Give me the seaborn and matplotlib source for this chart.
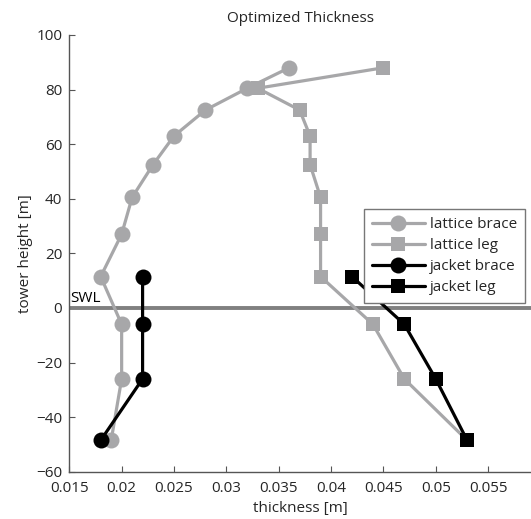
import matplotlib
matplotlib.use("Agg")
import matplotlib.pyplot as plt
import seaborn as sns
import pandas as pd

# ---- data ----
heights = [88, 80.5, 72.5, 63, 52.5, 40.5, 27, 11.5, -6, -26, -48.5]
lattice_brace = [0.036, 0.032, 0.028, 0.025, 0.023, 0.021, 0.020, 0.018, 0.020, 0.020, 0.019]
lattice_leg = [0.045, 0.033, 0.037, 0.038, 0.038, 0.039, 0.039, 0.039, 0.044, 0.047, 0.053]
jacket_heights = [11.5, -6, -26, -48.5]
jacket_brace = [0.022, 0.022, 0.022, 0.018]
jacket_leg = [0.042, 0.047, 0.050, 0.053]
xticks = [0.015, 0.02, 0.025, 0.03, 0.035, 0.04, 0.045, 0.05, 0.055]
yticks = [-60, -40, -20, 0, 20, 40, 60, 80, 100]

sns.set_theme(style="ticks")
plt.rcParams['font.family'] = ['Open Sans', 'DejaVu Sans']

fig = plt.figure(figsize=(5.31, 5.19), dpi=100)
ax = fig.add_axes([69.3 / 531, 1 - 471.7 / 519, 1 - 69.3 / 531, (471.7 - 35) / 519])

gray = "#a7a7a9"
series = [
    ("lattice brace", lattice_brace, heights, gray, "o", 11.5),
    ("lattice leg", lattice_leg, heights, gray, "s", 9.5),
    ("jacket brace", jacket_brace, jacket_heights, "black", "o", 11.5),
    ("jacket leg", jacket_leg, jacket_heights, "black", "s", 9.5),
]
for name, xs, ys, col, mk, ms in series:
    df = pd.DataFrame({"thickness": xs, "height": ys})
    sns.lineplot(data=df, x="thickness", y="height", sort=False, ax=ax,
                 color=col, marker=mk, markersize=ms, markeredgewidth=0,
                 linewidth=2.3, label=name, estimator=None)

ax.axhline(0, color="#808080", linewidth=2.8, zorder=1)
ax.text(0.0151, 0.6, "SWL", fontsize=11, ha="left", va="bottom", color="black")

ax.set_xlim(0.015, 0.0591)
ax.set_ylim(-60, 100)
ax.set_xticks(xticks)
ax.set_xticklabels([f"{t:g}" for t in xticks])
ax.set_yticks(yticks)
ax.set_yticklabels([str(t).replace("-", "\u2212") for t in yticks])
ax.tick_params(direction="in", length=4, width=0.8, color="#555555", labelsize=11)
ax.tick_params(axis="x", pad=7)
ax.tick_params(axis="y", pad=5)
for s in ["top", "right"]:
    ax.spines[s].set_visible(False)
for s in ["left", "bottom"]:
    ax.spines[s].set_color("#555555")
    ax.spines[s].set_linewidth(1.0)

ax.set_xlabel("thickness [m]", fontsize=11, labelpad=3)
ax.set_ylabel("tower height [m]", fontsize=11, labelpad=2)
ax.set_title("Optimized Thickness", fontsize=11, pad=9)

leg = ax.legend(loc="upper left", bbox_to_anchor=(364 / 531, 1 - 209.3 / 519),
                bbox_transform=fig.transFigure, borderaxespad=0, fontsize=11,
                frameon=True, fancybox=False, handlelength=3.5, labelspacing=0.4,
                handletextpad=0.3, borderpad=0.5)
leg.get_frame().set_edgecolor("#777777")
leg.get_frame().set_linewidth(1.0)
leg.get_frame().set_alpha(1)

fig.savefig("out.png", dpi=100)
